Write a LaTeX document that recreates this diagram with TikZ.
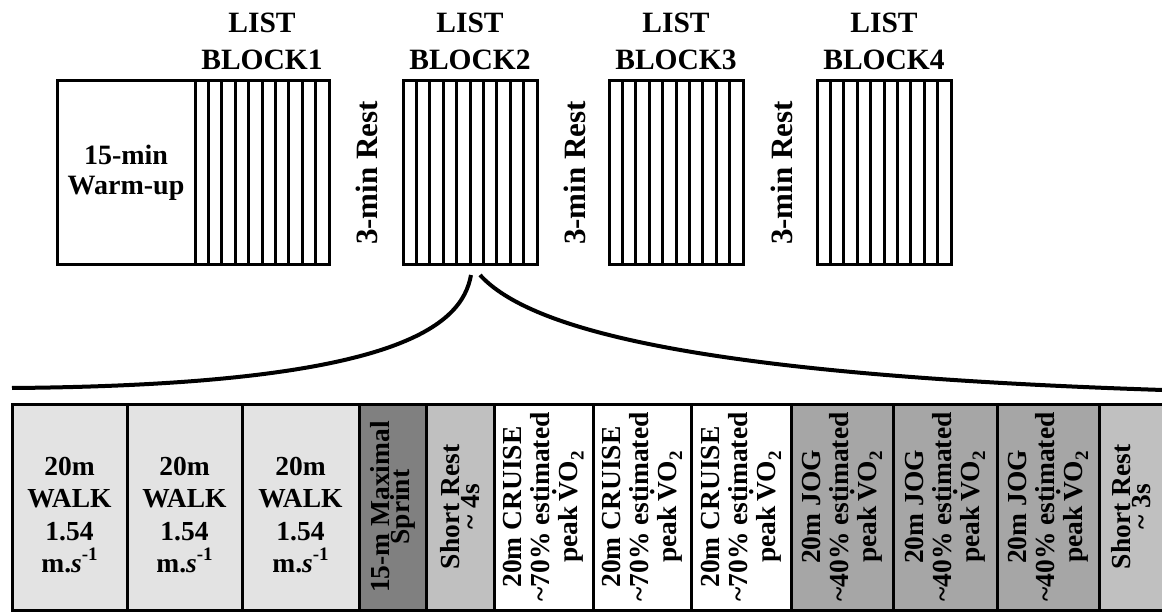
\documentclass[tikz,border=0pt]{standalone}
\usepackage{fontspec}
\setmainfont{Liberation Serif}
\usetikzlibrary{calc}
\definecolor{walkc}{HTML}{E3E3E3}
\definecolor{sprintc}{HTML}{808080}
\definecolor{restc}{HTML}{C0C0C0}
\definecolor{jogc}{HTML}{A6A6A6}
\newcommand{\Vd}{\rlap{\hspace{0.235em}\raisebox{0.78em}{.}}V}
\newcommand{\subtwo}{\raisebox{-0.22em}{\fontsize{19}{19}\selectfont 2}}
\newcommand{\supm}{\raisebox{0.42em}{\fontsize{19}{19}\selectfont -1}}
\newcommand{\tld}{\textasciitilde}
\begin{document}
\begin{tikzpicture}[x=1pt,y=-1pt,
  frame/.style={draw, line width=3pt, inner sep=0pt, outer sep=0pt, anchor=north west, minimum height=184pt},
  hdr/.style={align=center, inner sep=0pt, anchor=north, font=\bfseries\fontsize{29.5}{37}\selectfont},
  restlbl/.style={rotate=90, inner sep=0pt, font=\bfseries\fontsize{31}{31}\selectfont},
  cell/.style={draw, line width=3pt, inner sep=0pt, outer sep=0pt, minimum height=206pt},
  vcell/.style={draw, line width=3pt, inner sep=0pt, outer sep=0pt, rotate=90, minimum width=206pt, align=center},
  wtxt/.style={align=center, inner sep=0pt, anchor=north, font=\bfseries\fontsize{27.5}{32.3}\selectfont},
  tight/.style={font=\bfseries\fontsize{27.5}{20}\selectfont},
  loose/.style={font=\bfseries\fontsize{27.5}{28}\selectfont},
  curve/.style={line width=4pt}]
\useasboundingbox (0,0) rectangle (1162,612);
\clip (0,0) rectangle (1162,612);
% top blocks
\node[frame, minimum width=138pt, align=center, font=\bfseries\fontsize{28}{30}\selectfont] (warm) at (57,81) {15-min\\Warm-up};
\node[frame, minimum width=134pt] (b1) at (195,81) {};
\node[frame, minimum width=134pt] (b2) at (403,81) {};
\node[frame, minimum width=134pt] (b3) at (609,81) {};
\node[frame, minimum width=134pt] (b4) at (817,81) {};
\foreach \b in {b1,b2,b3,b4}{
  \foreach \k in {1,...,9}{
    \draw[line width=3pt] ($(\b.north west)!\k/10!(\b.north east)$) -- ($(\b.south west)!\k/10!(\b.south east)$);
  }
}
\node[hdr] (h1) at (262,13) {LIST\\BLOCK1};
\node[hdr] (h2) at (470,13) {LIST\\BLOCK2};
\node[hdr] (h3) at (676,13) {LIST\\BLOCK3};
\node[hdr] (h4) at (884,13) {LIST\\BLOCK4};
\node[restlbl] (r1) at (367,173) {3-min Rest};
\node[restlbl] (r2) at (575,173) {3-min Rest};
\node[restlbl] (r3) at (782,173) {3-min Rest};
% table
\node[cell, fill=walkc, minimum width=115pt] (c1) at (69.5,507) {};
\node[cell, fill=walkc, minimum width=115pt] (c2) at (184.5,507) {};
\node[cell, fill=walkc, minimum width=117pt] (c3) at (300.5,507) {};
\node[wtxt] (t1) at ($(c1.north)+(0,53)$) {20m\\WALK\\1.54\\m.\textit{s}\supm};
\node[wtxt] (t2) at ($(c2.north)+(0,53)$) {20m\\WALK\\1.54\\m.\textit{s}\supm};
\node[wtxt] (t3) at ($(c3.north)+(0,53)$) {20m\\WALK\\1.54\\m.\textit{s}\supm};
\node[vcell, tight, fill=sprintc, minimum height=67pt] (c4) at (392.5,507) {15-m Maximal\\Sprint};
\node[vcell, tight, fill=restc, minimum height=68pt] (c5) at (460,507) {Short Rest\\\tld\ 4s};
\node[vcell, loose, fill=white, minimum height=99pt] (c6) at (543.5,507) {20m CRUISE\\\tld70\% estimated\\peak\,\Vd O\subtwo};
\node[vcell, loose, fill=white, minimum height=98pt] (c7) at (642,507) {20m CRUISE\\\tld70\% estimated\\peak\,\Vd O\subtwo};
\node[vcell, loose, fill=white, minimum height=100pt] (c8) at (741,507) {20m CRUISE\\\tld70\% estimated\\peak\,\Vd O\subtwo};
\node[vcell, loose, fill=jogc, minimum height=102pt] (c9) at (842,507) {20m JOG\\\tld40\% estimated\\peak\,\Vd O\subtwo};
\node[vcell, loose, fill=jogc, minimum height=104pt] (c10) at (945,507) {20m JOG\\\tld40\% estimated\\peak\,\Vd O\subtwo};
\node[vcell, loose, fill=jogc, minimum height=102pt] (c11) at (1048,507) {20m JOG\\\tld40\% estimated\\peak\,\Vd O\subtwo};
\node[vcell, tight, fill=restc, minimum height=65pt] (c12) at (1131.5,507) {Short Rest\\\tld\ 3s};
% zoom curves
\coordinate (cl) at (471,275);
\coordinate (cr) at (480,275);
\coordinate (tl) at (12,388);
\coordinate (tr) at (1163,390);
\draw[curve] (cl) .. controls (462,325) and (400,385) .. (tl);
\draw[curve] (cr) .. controls (530,330) and (700,375) .. (tr);
\end{tikzpicture}
\end{document}
